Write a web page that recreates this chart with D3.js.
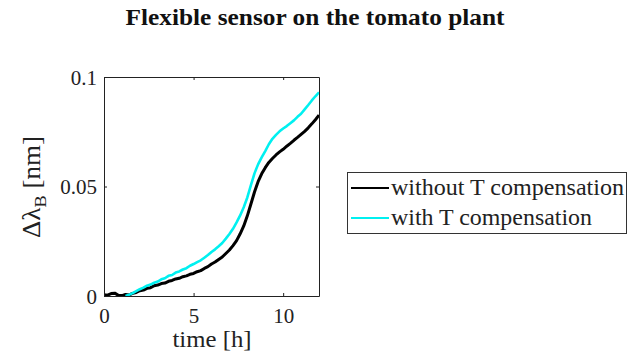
<!DOCTYPE html>
<html>
<head>
<meta charset="utf-8">
<script src="https://cdn.jsdelivr.net/npm/d3@7/dist/d3.min.js"></script>
<style>
  html, body { margin: 0; padding: 0; background: #fff; }
  svg text { font-family: "Liberation Serif", "DejaVu Serif", serif; fill: #222; }
</style>
</head>
<body>
<svg id="chart" width="628" height="356"></svg>
<script>
// Bragg wavelength shift of the flexible sensor over 12 h (sampled every 0.2 h)
const sampleStep = 0.2;

const withoutStart = 0;
const withoutComp = [
  0.0006, 0.0004, 0.0011, 0.0013, 0.0003, 0.0002, 0.0007, 0.0005, 0.0012, 0.0016,
  0.0024, 0.0027, 0.0035, 0.0038, 0.0047, 0.0050, 0.0057, 0.0059, 0.0067, 0.0071,
  0.0078, 0.0081, 0.0088, 0.0092, 0.0099, 0.0103, 0.0111, 0.0116, 0.0126, 0.0134,
  0.0146, 0.0155, 0.0167, 0.0178, 0.0194, 0.0210, 0.0230, 0.0253, 0.0284, 0.0320,
  0.0366, 0.0420, 0.0475, 0.0522, 0.0558, 0.0586, 0.0610, 0.0628, 0.0644, 0.0658,
  0.0670, 0.0684, 0.0697, 0.0711, 0.0724, 0.0738, 0.0752, 0.0768, 0.0786, 0.0805,
  0.0826
];

const withStart = 1.2;
const withComp = [
  0.0000, 0.0006, 0.0013, 0.0022, 0.0031, 0.0038, 0.0047, 0.0052, 0.0061, 0.0066,
  0.0076, 0.0081, 0.0092, 0.0096, 0.0107, 0.0112, 0.0121, 0.0127, 0.0138, 0.0146,
  0.0155, 0.0163, 0.0175, 0.0187, 0.0201, 0.0213, 0.0227, 0.0242, 0.0262, 0.0283,
  0.0307, 0.0336, 0.0368, 0.0405, 0.0450, 0.0506, 0.0560, 0.0601, 0.0633, 0.0662,
  0.0693, 0.0718, 0.0736, 0.0752, 0.0765, 0.0776, 0.0789, 0.0802, 0.0818, 0.0832,
  0.0852, 0.0872, 0.0893, 0.0912, 0.0930
];

const xTicks = [0, 5, 10];
const yTicks = [0, 0.05, 0.1];
const yTickLabels = ["0", "0.05", "0.1"];
const seriesNames = ["without T compensation", "with T compensation"];
const seriesColors = ["#000000", "#00f0f0"];

const svg = d3.select("#chart");
const plot = { left: 104, right: 319, top: 77, bottom: 296 };

const x = d3.scaleLinear().domain([0, 12]).range([plot.left, plot.right]);
const y = d3.scaleLinear().domain([0, 0.1]).range([plot.bottom, plot.top]);

// title
svg.append("text")
  .attr("x", 315).attr("y", 25)
  .attr("text-anchor", "middle")
  .attr("textLength", 379).attr("lengthAdjust", "spacingAndGlyphs")
  .style("font-weight", "bold").style("font-size", "24px").style("fill", "#111")
  .text("Flexible sensor on the tomato plant");

// clip to axes box
svg.append("clipPath").attr("id", "clip")
  .append("rect")
  .attr("x", plot.left).attr("y", plot.top)
  .attr("width", plot.right - plot.left).attr("height", plot.bottom - plot.top);

const toPoints = (start, vals) => vals.map((v, i) => [start + i * sampleStep, v]);
const line = d3.line().x(d => x(d[0])).y(d => y(d[1]));

const curves = [
  { pts: toPoints(withoutStart, withoutComp), color: seriesColors[0], width: 3 },
  { pts: toPoints(withStart, withComp), color: seriesColors[1], width: 2.6 }
];

svg.append("g").attr("clip-path", "url(#clip)")
  .selectAll("path").data(curves).join("path")
  .attr("d", d => line(d.pts))
  .attr("fill", "none")
  .attr("stroke", d => d.color)
  .attr("stroke-width", d => d.width)
  .attr("stroke-linejoin", "round");

// axes: ticks pointing inward on all four sides
const axB = svg.append("g").attr("transform", `translate(0,${plot.bottom})`)
  .call(d3.axisBottom(x).tickValues(xTicks).tickSizeInner(-3).tickSizeOuter(0).tickPadding(12).tickFormat(d3.format("d")));
const axT = svg.append("g").attr("transform", `translate(0,${plot.top})`)
  .call(d3.axisTop(x).tickValues(xTicks).tickSizeInner(-3).tickSizeOuter(0).tickFormat(""));
const axL = svg.append("g").attr("transform", `translate(${plot.left},0)`)
  .call(d3.axisLeft(y).tickValues(yTicks).tickSizeInner(-3).tickSizeOuter(0).tickPadding(7)
    .tickFormat((d, i) => yTickLabels[i]));
const axR = svg.append("g").attr("transform", `translate(${plot.right},0)`)
  .call(d3.axisRight(y).tickValues(yTicks).tickSizeInner(-3).tickSizeOuter(0).tickFormat(""));

[axB, axT, axL, axR].forEach(g => {
  g.select(".domain").attr("stroke", "#222").attr("stroke-width", 1);
  g.selectAll(".tick line").attr("stroke", "#222");
  g.selectAll(".tick text")
    .style("font-family", '"Liberation Serif", serif')
    .style("font-size", "21px").attr("fill", "#222");
});
axL.selectAll(".tick text").attr("dy", "0.34em");

// axis labels
svg.append("text")
  .attr("x", 212).attr("y", 347)
  .attr("text-anchor", "middle")
  .attr("textLength", 79).attr("lengthAdjust", "spacingAndGlyphs")
  .style("font-size", "24px")
  .text("time [h]");

const yl = svg.append("text")
  .attr("transform", "translate(40,187) rotate(-90)")
  .attr("text-anchor", "middle")
  .attr("textLength", 102).attr("lengthAdjust", "spacingAndGlyphs")
  .style("font-size", "25px");
yl.append("tspan").text("Δλ");
yl.append("tspan").attr("dy", 6).style("font-size", "17px").text("B");
yl.append("tspan").attr("dy", -6).text(" [nm]");

// legend
const legendLen = [233, 201];
const lg = svg.append("g");
lg.append("rect")
  .attr("x", 347.5).attr("y", 172.5).attr("width", 279).attr("height", 61)
  .attr("fill", "#fff").attr("stroke", "#333").attr("stroke-width", 1);
const rows = lg.selectAll("g.row").data(seriesNames).join("g")
  .attr("class", "row")
  .attr("transform", (d, i) => `translate(0,${188 + i * 30})`);
rows.append("line")
  .attr("x1", 351).attr("x2", 389).attr("y1", 0).attr("y2", 0)
  .attr("stroke", (d, i) => seriesColors[i]).attr("stroke-width", 2);
rows.append("text")
  .attr("x", 391).attr("y", 6.5)
  .attr("textLength", (d, i) => legendLen[i]).attr("lengthAdjust", "spacingAndGlyphs")
  .style("font-size", "23px")
  .text(d => d);
</script>
</body>
</html>
